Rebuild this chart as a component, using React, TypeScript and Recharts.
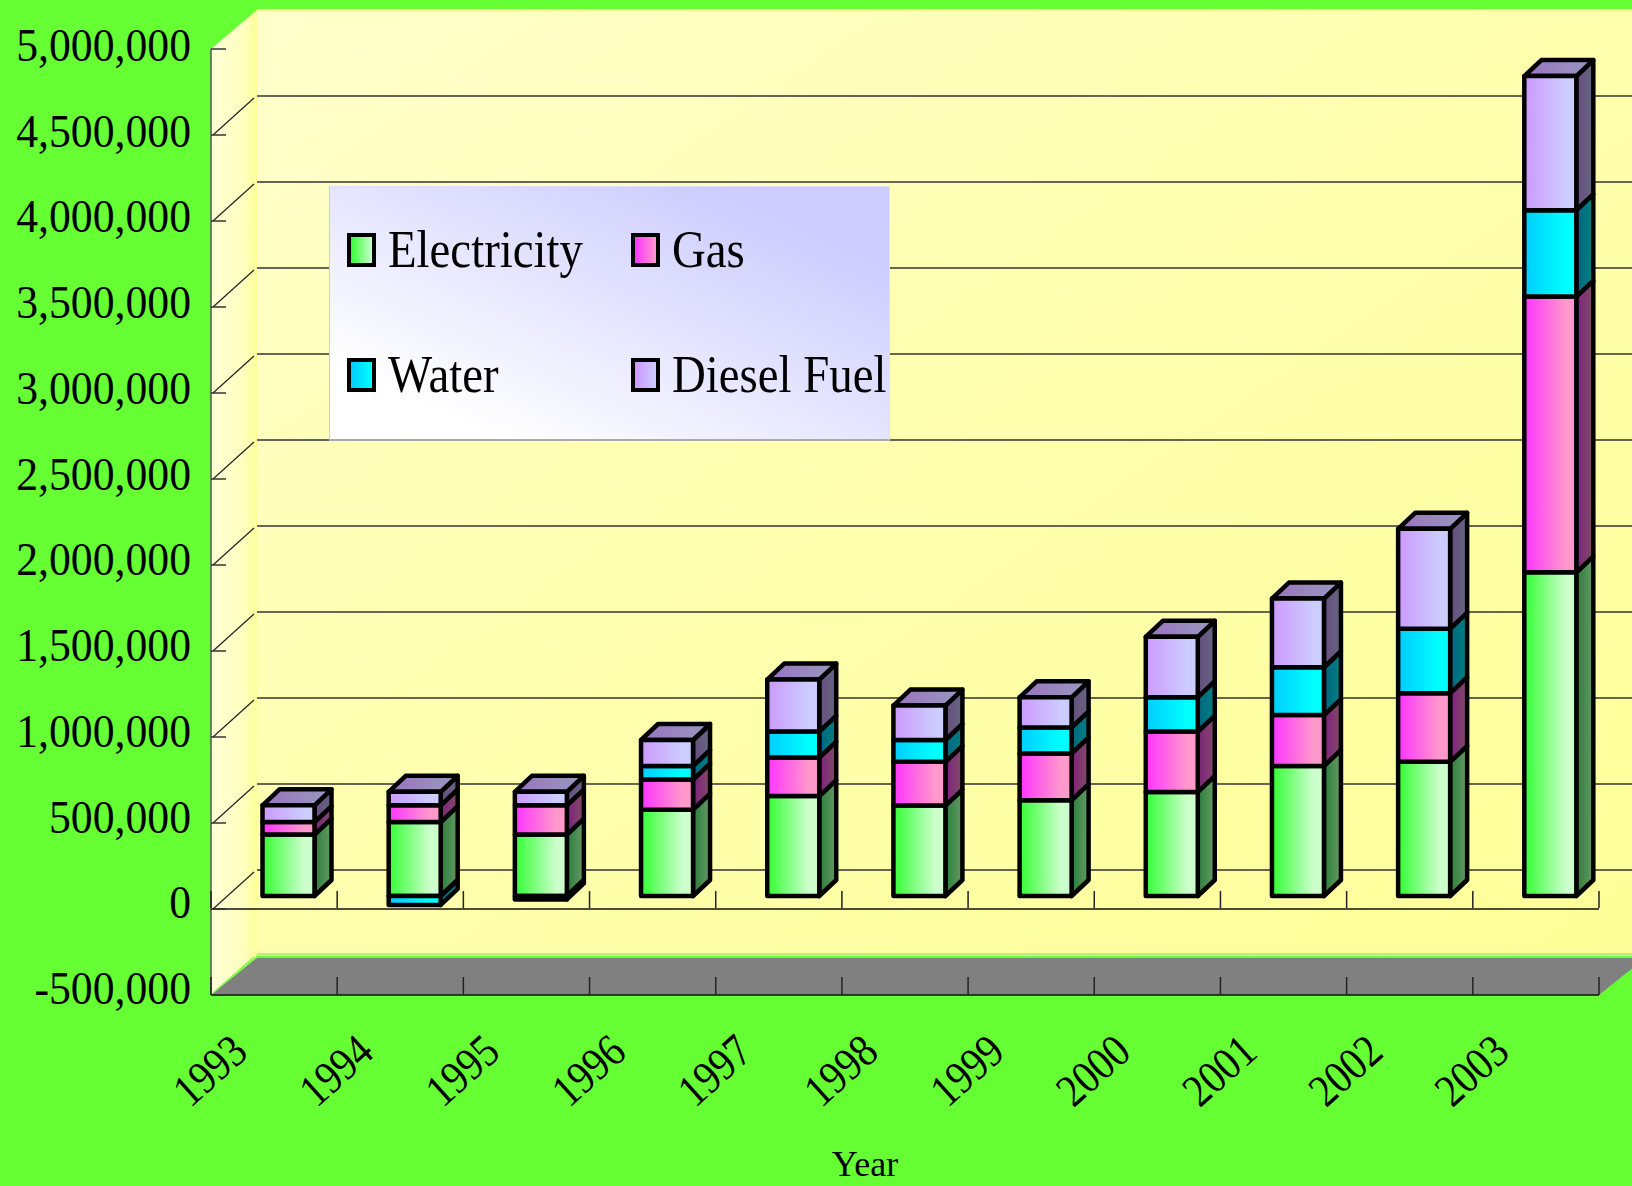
import React from 'react';
import { ComposedChart, Bar, XAxis, YAxis, CartesianGrid, ReferenceLine, Legend, Label } from 'recharts';

const years = ['1993', '1994', '1995', '1996', '1997', '1998', '1999', '2000', '2001', '2002', '2003'];
const electricity = [357000, 430000, 357000, 502000, 581000, 526000, 557000, 605000, 756000, 780000, 1882000];
const gas = [73000, 97000, 170000, 175000, 224000, 254000, 272000, 351000, 296000, 399000, 1603000];
const water = [0, -52000, -20000, 79000, 151000, 127000, 151000, 200000, 278000, 375000, 502000];
const diesel = [97000, 79000, 79000, 151000, 302000, 200000, 175000, 351000, 399000, 581000, 780000];
const yTicks = [-500000, 0, 500000, 1000000, 1500000, 2000000, 2500000, 3000000, 3500000, 4000000, 4500000, 5000000];

const rows = years.map((year, i) => ({
  year,
  electricity: electricity[i],
  gas: gas[i],
  water: water[i],
  diesel: diesel[i],
}));

const W = 1632;
const H = 1186;
const LEFT = 211;
const RIGHT = 1599;
const TOP = 49;
const BOTTOM = 995;
const ZERO_Y = 908;
const BAND = (RIGHT - LEFT) / years.length;
// depth of the fake 3D walls
const WALL_DX = 46;
const WALL_DY = 39;
// where the boxes stand inside that depth, and how deep they are
const BOX_SHIFT_X = 14.5;
const BOX_SHIFT_Y = -13;
const BOX_DX = 17;
const BOX_DY = 16;

const SERIF = '"Liberation Serif", serif';
const Y_FONT = 47;

const series = [
  { key: 'electricity', name: 'Electricity', from: '#33FF33', to: '#CCFFCC', sideFrom: '#2A7F3A', sideTo: '#669966' },
  { key: 'gas', name: 'Gas', from: '#FF33FF', to: '#FF99CC', sideFrom: '#802080', sideTo: '#804D66' },
  { key: 'water', name: 'Water', from: '#00CCFF', to: '#00FFFF', sideFrom: '#006680', sideTo: '#008080' },
  { key: 'diesel', name: 'Diesel Fuel', from: '#CC99FF', to: '#CCCCFF', sideFrom: '#664D80', sideTo: '#666680' },
];

const Box = (props: any) => {
  const { x, y, width, height, seriesKey, showTop } = props;
  if (!height) return null;
  const bx = x + BOX_SHIFT_X;
  const by = Math.min(y, y + height) + BOX_SHIFT_Y;
  const h = Math.abs(height);
  const line = { stroke: '#000', strokeWidth: 4.5, strokeLinejoin: 'round' as const };
  return (
    <g>
      <polygon
        points={`${bx + width},${by} ${bx + width + BOX_DX},${by - BOX_DY} ${bx + width + BOX_DX},${by + h - BOX_DY} ${bx + width},${by + h}`}
        fill={`url(#side-${seriesKey})`}
        {...line}
      />
      {showTop && (
        <polygon
          points={`${bx},${by} ${bx + BOX_DX},${by - BOX_DY} ${bx + width + BOX_DX},${by - BOX_DY} ${bx + width},${by}`}
          fill="url(#boxTop)"
          {...line}
        />
      )}
      <rect x={bx} y={by} width={width} height={h} fill={`url(#front-${seriesKey})`} {...line} />
    </g>
  );
};

// the tick font is narrower than Liberation Serif, so squeeze each label the same amount
const labelLength = (label: string) => {
  let em = 0;
  for (const ch of label) em += ch === ',' ? 0.25 : ch === '-' ? 0.333 : 0.5;
  return em * Y_FONT * 0.93;
};

const YTick = (props: any) => {
  const { y, payload } = props;
  const label = payload.value.toLocaleString('en-US');
  return (
    <g>
      <line x1={LEFT} x2={LEFT + 15} y1={y} y2={y} stroke="#333" strokeWidth={1.5} />
      <text
        x={191}
        y={y + 12 - (y - TOP) * 0.003}
        textAnchor="end"
        fontFamily={SERIF}
        fontSize={Y_FONT}
        textLength={labelLength(label)}
        lengthAdjust="spacingAndGlyphs"
        fill="#000"
      >
        {label}
      </text>
    </g>
  );
};

const XTick = (props: any) => {
  const { x, payload, index } = props;
  const left = x - BAND / 2;
  const marks = index === years.length - 1 ? [left, left + BAND] : [left];
  const cx = left + 2;
  return (
    <g>
      {marks.map((m) => (
        <g key={m}>
          <line x1={m} x2={m} y1={ZERO_Y - 17} y2={ZERO_Y} stroke="#222" strokeWidth={1.5} />
          <line x1={m} x2={m} y1={BOTTOM - 18} y2={BOTTOM} stroke="#222" strokeWidth={1.5} />
        </g>
      ))}
      <text
        x={cx}
        y={1074}
        textAnchor="middle"
        dominantBaseline="middle"
        fontFamily={SERIF}
        fontSize={46}
        textLength={80}
        lengthAdjust="spacingAndGlyphs"
        fill="#000"
        transform={`rotate(-42 ${cx} 1074)`}
      >
        {payload.value}
      </text>
    </g>
  );
};

// back wall lines plus the diagonal on the side wall, both from the y axis scale
const WallLine = (props: any) => {
  const { y1, index } = props;
  if (index === 0 || index === yTicks.length - 1 || y1 <= TOP + 1 || y1 >= BOTTOM - 1) return <g key={`w${index}`} />;
  return (
    <g key={`w${index}`}>
      <line x1={LEFT + WALL_DX} x2={W} y1={y1 - WALL_DY} y2={y1 - WALL_DY} stroke="#333" strokeWidth={1.3} />
      <line x1={LEFT + 2} x2={LEFT + WALL_DX - 3} y1={y1} y2={y1 - WALL_DY + 2} stroke="#222" strokeWidth={1.2} />
    </g>
  );
};

const legendRows = [
  { key: 'electricity', sx: 17, ty: 0 },
  { key: 'gas', sx: 301, ty: 0 },
  { key: 'water', sx: 17, ty: 125 },
  { key: 'diesel', sx: 301, ty: 125 },
];

const LegendBox = () => (
  <div
    style={{
      position: 'relative',
      width: 561,
      height: 255,
      boxSizing: 'border-box',
      background: 'linear-gradient(to top right, #FFFFFF 15%, #CCCCFF 85%)',
      borderTop: '1px solid #DDDDFF',
      borderLeft: '1px solid #CCCCEE',
      borderRight: '1px solid #DDDDFF',
      borderBottom: '2px solid #AAAAAA',
      fontFamily: SERIF,
      fontSize: 52,
      color: '#000',
    }}
  >
    {legendRows.map((r) => {
      const s = series.find((d) => d.key === r.key)!;
      return (
        <div key={r.key}>
          <div
            style={{
              position: 'absolute',
              boxSizing: 'border-box',
              left: r.sx,
              top: 46 + r.ty,
              width: 29,
              height: 34,
              border: '4px solid #000',
              background: `linear-gradient(to right, ${s.from}, ${s.to})`,
            }}
          />
          <div
            style={{
              position: 'absolute',
              left: r.sx + 41,
              top: 35 + r.ty,
              lineHeight: '56px',
              whiteSpace: 'nowrap',
              transform: 'scaleX(0.9)',
              transformOrigin: 'left center',
            }}
          >
            {s.name}
          </div>
        </div>
      );
    })}
  </div>
);

const Walls = () => (
  <svg width={W} height={H} style={{ position: 'absolute', left: 0, top: 0 }}>
    <defs>
      <linearGradient id="wallBack" x1="0" y1="0" x2="1" y2="1">
        <stop offset="0%" stopColor="#FFFFCC" />
        <stop offset="45%" stopColor="#FFFFB0" />
        <stop offset="100%" stopColor="#FFFF99" />
      </linearGradient>
      <linearGradient id="wallSide" x1="0" y1="0" x2="1" y2="0">
        <stop offset="0%" stopColor="#FFFFD6" />
        <stop offset="70%" stopColor="#FFFFC0" />
        <stop offset="100%" stopColor="#FFFF99" />
      </linearGradient>
    </defs>
    <rect x={LEFT + WALL_DX} y={TOP - WALL_DY} width={W - LEFT - WALL_DX} height={BOTTOM - TOP} fill="url(#wallBack)" />
    <rect x={LEFT + WALL_DX} y={TOP - WALL_DY - 1} width={W - LEFT - WALL_DX} height={3} fill="#FFFF99" />
    <polygon
      points={`${LEFT},${TOP} ${LEFT + WALL_DX},${TOP - WALL_DY} ${LEFT + WALL_DX},${BOTTOM - WALL_DY} ${LEFT},${BOTTOM}`}
      fill="url(#wallSide)"
    />
    <polygon
      points={`${LEFT},${BOTTOM} ${LEFT + WALL_DX},${BOTTOM - WALL_DY + 2} ${RIGHT + WALL_DX},${BOTTOM - WALL_DY + 2} ${RIGHT},${BOTTOM}`}
      fill="#808080"
    />
    <line x1={LEFT + WALL_DX} x2={W} y1={BOTTOM - WALL_DY - 2} y2={BOTTOM - WALL_DY - 2} stroke="#99F066" strokeWidth={1.3} />
    <line x1={LEFT + 2} x2={LEFT + WALL_DX - 3} y1={BOTTOM - 2} y2={BOTTOM - WALL_DY + 1} stroke="#80F050" strokeWidth={1.3} />
  </svg>
);

export default function App() {
  return (
    <div style={{ position: 'absolute', left: 0, top: 0, width: W, height: H, background: '#66FF33', overflow: 'hidden' }}>
      <Walls />
      <div style={{ position: 'absolute', left: 0, top: 0 }}>
        <ComposedChart
          width={W}
          height={H}
          data={rows}
          stackOffset="sign"
          barSize={52}
          margin={{ top: TOP, right: W - RIGHT, bottom: 0, left: 0 }}
        >
          <defs>
            {series.map((s) => (
              <linearGradient key={s.key} id={`front-${s.key}`} x1="0" y1="0" x2="1" y2="0">
                <stop offset="0%" stopColor={s.from} />
                <stop offset="80%" stopColor={s.to} />
                <stop offset="100%" stopColor={s.to} />
              </linearGradient>
            ))}
            {series.map((s) => (
              <linearGradient key={s.key} id={`side-${s.key}`} x1="0" y1="0" x2="1" y2="0">
                <stop offset="0%" stopColor={s.sideFrom} />
                <stop offset="100%" stopColor={s.sideTo} />
              </linearGradient>
            ))}
            <linearGradient id="boxTop" x1="0" y1="0" x2="1" y2="0">
              <stop offset="0%" stopColor="#9973BF" />
              <stop offset="100%" stopColor="#9999BF" />
            </linearGradient>
          </defs>
          <CartesianGrid vertical={false} horizontal={WallLine} />
          <YAxis
            type="number"
            width={LEFT}
            domain={[-500000, 5000000]}
            ticks={yTicks}
            interval={0}
            allowDataOverflow
            tickLine={false}
            axisLine={{ stroke: '#555', strokeWidth: 1.5 }}
            tick={<YTick />}
          />
          <XAxis
            dataKey="year"
            height={H - BOTTOM}
            interval={0}
            tickLine={false}
            axisLine={{ stroke: '#111', strokeWidth: 1.5 }}
            tick={<XTick />}
          >
            <Label value="Year" position="insideBottom" offset={10} dx={-40} fontFamily={SERIF} fontSize={36} fill="#000" />
          </XAxis>
          <ReferenceLine y={0} stroke="#111" strokeWidth={1.5} />
          {series.map((s) => (
            <Bar
              key={s.key}
              dataKey={s.key}
              name={s.name}
              stackId="total"
              isAnimationActive={false}
              shape={(p: any) => <Box {...p} seriesKey={s.key} showTop={s.key === 'diesel'} />}
            />
          ))}
          <Legend
            layout="horizontal"
            verticalAlign="middle"
            align="center"
            content={<LegendBox />}
            wrapperStyle={{ left: 329, top: 186, width: 561, height: 255 }}
          />
        </ComposedChart>
      </div>
    </div>
  );
}
